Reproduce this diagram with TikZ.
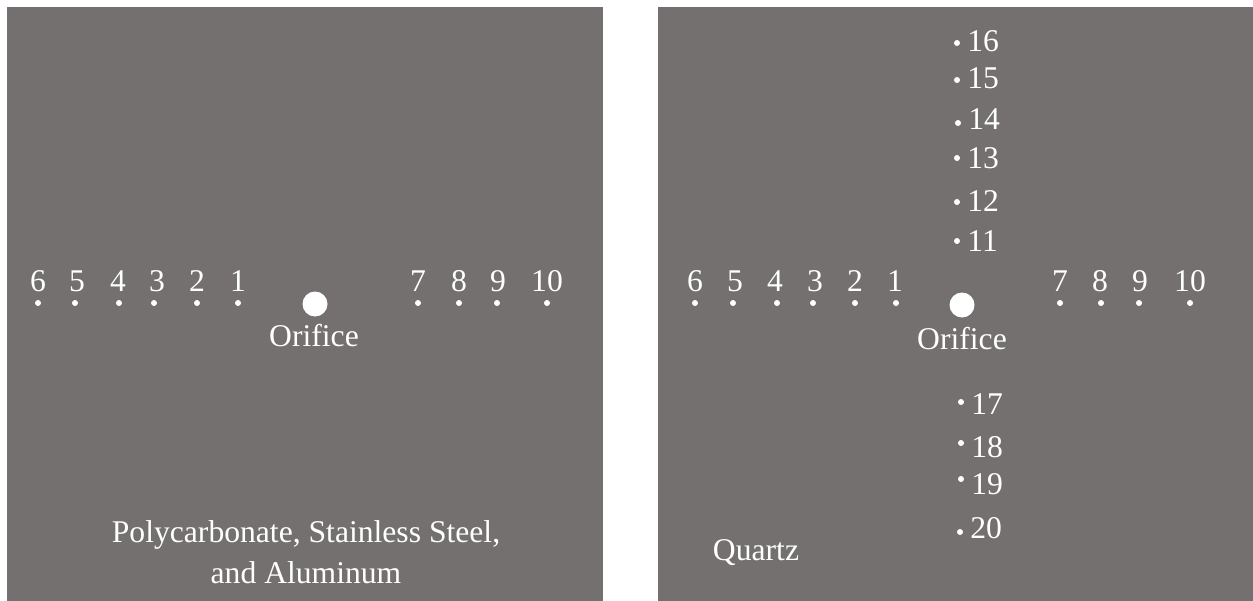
\documentclass[tikz,border=0pt]{standalone}
\usepackage{fontspec}
\setmainfont{Liberation Serif}
\definecolor{plategray}{RGB}{116,112,111}
\tikzset{
  lbl/.style={text=white, inner sep=0pt, font=\fontsize{18}{21}\selectfont},
  pt/.style={fill=white}
}
\begin{document}
\begin{tikzpicture}[x=0.02cm, y=-0.02cm]
                \useasboundingbox (0,0) rectangle (1253,601);
                % plates
                \fill[plategray] (7,7) rectangle (603,601);
                \fill[plategray] (658,7) rectangle (1253,601);

                % left plate
                \fill[white] (315,304) circle (12.5);
                \node[lbl] (orificeL) at (314,336) {Orifice};
                \fill[pt] (38,303) circle (3);  \node[lbl] (l6) at (38,281) {6};
                \fill[pt] (75,303) circle (3);  \node[lbl] (l5) at (77,281) {5};
                \fill[pt] (119,303) circle (3); \node[lbl] (l4) at (118,281) {4};
                \fill[pt] (154,303) circle (3); \node[lbl] (l3) at (157,281) {3};
                \fill[pt] (197,303) circle (3); \node[lbl] (l2) at (197,281) {2};
                \fill[pt] (238,303) circle (3); \node[lbl] (l1) at (238,281) {1};
                \fill[pt] (418,303) circle (3); \node[lbl] (l7) at (418,281) {7};
                \fill[pt] (459,303) circle (3); \node[lbl] (l8) at (459,281) {8};
                \fill[pt] (497,303) circle (3); \node[lbl] (l9) at (498,281) {9};
                \fill[pt] (547,303) circle (3); \node[lbl] (l10) at (547,281) {10};
                \node[lbl, align=center] (matL) at (306,552) {Polycarbonate, Stainless Steel,\\[2pt] and Aluminum};

                % right plate
                \fill[white] (962,305) circle (12.5);
                \node[lbl] (orificeR) at (962,339) {Orifice};
                \fill[pt] (695,303) circle (3); \node[lbl] (r6) at (695,281) {6};
                \fill[pt] (733,303) circle (3); \node[lbl] (r5) at (735,281) {5};
                \fill[pt] (777,303) circle (3); \node[lbl] (r4) at (775,281) {4};
                \fill[pt] (813,303) circle (3); \node[lbl] (r3) at (815,281) {3};
                \fill[pt] (855,303) circle (3); \node[lbl] (r2) at (855,281) {2};
                \fill[pt] (896,303) circle (3); \node[lbl] (r1) at (895,281) {1};
                \fill[pt] (1060,303) circle (3); \node[lbl] (r7) at (1060,281) {7};
                \fill[pt] (1101,303) circle (3); \node[lbl] (r8) at (1100,281) {8};
                \fill[pt] (1139,303) circle (3); \node[lbl] (r9) at (1140,281) {9};
                \fill[pt] (1190,303) circle (3); \node[lbl] (r10) at (1190,281) {10};

                \fill[pt] (957,43) circle (3);  \node[lbl, anchor=west] (r16) at (967,41) {16};
                \fill[pt] (957,80) circle (3);  \node[lbl, anchor=west] (r15) at (967,78) {15};
                \fill[pt] (958,123) circle (3); \node[lbl, anchor=west] (r14) at (968,119) {14};
                \fill[pt] (957,158) circle (3); \node[lbl, anchor=west] (r13) at (967,158) {13};
                \fill[pt] (957,202) circle (3); \node[lbl, anchor=west] (r12) at (967,201) {12};
                \fill[pt] (957,241) circle (3); \node[lbl, anchor=west] (r11) at (967,241) {11};
                \fill[pt] (961,402) circle (3); \node[lbl, anchor=west] (r17) at (971,404) {17};
                \fill[pt] (961,443) circle (3); \node[lbl, anchor=west] (r18) at (971,447) {18};
                \fill[pt] (961,479) circle (3); \node[lbl, anchor=west] (r19) at (971,484) {19};
                \fill[pt] (960,532) circle (3); \node[lbl, anchor=west] (r20) at (970,528) {20};
                \node[lbl] (matR) at (756,553) {Quartz};

\end{tikzpicture}
\end{document}
